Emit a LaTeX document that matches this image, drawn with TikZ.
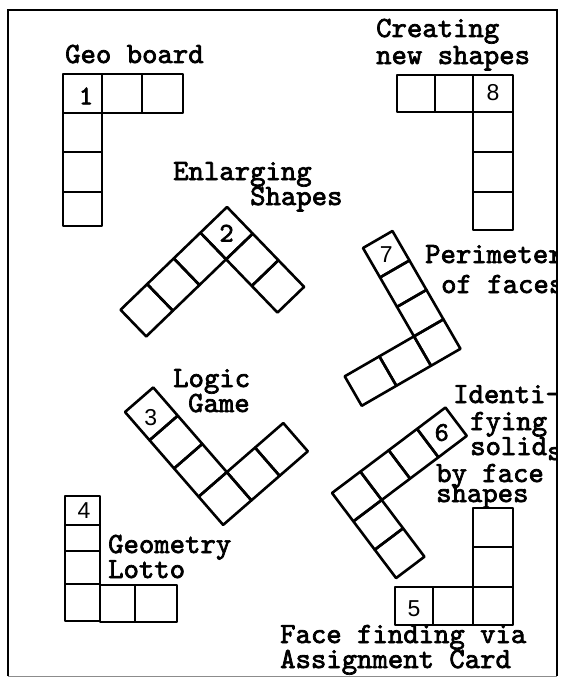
\documentclass[tikz,border=0pt]{standalone}
\usepackage{fontspec}
\newfontfamily\maquina{lmmono10-regular}[Extension=.otf, FakeBold=2.4]
\newfontfamily\cifras{Liberation Sans}
\begin{document}
\begin{tikzpicture}[x=1pt, y=-1pt,
    casilla/.style={draw, line width=2.6pt, line join=round},
    marco/.style={line width=2.3pt},
    rotulo/.style={anchor=base west, inner sep=0pt, font=\maquina\fontsize{29.3}{30}\selectfont},
    num/.style={inner sep=0pt, font=\cifras\fontsize{23}{24}\selectfont},
    numtt/.style={inner sep=0pt, font=\maquina\fontsize{27}{28}\selectfont}]
  \useasboundingbox (0,0) rectangle (561,677);
  \fill[white] (0,0) rectangle (561,677);
  \begin{scope}
    \clip (8,10) rectangle (557,676);
    \foreach \xa/\xb in {63/102,102/142,142/183}
      \draw[casilla] (\xa,74) rectangle (\xb,113);
    \foreach \ya/\yb in {113/152,152/192,192/226}
      \draw[casilla] (63,\ya) rectangle (102,\yb);
    \node[numtt] (n1) at (86,96) {1};
    \node[rotulo] (geo) at (65,63) {Geo board};

    \foreach \xa/\xb in {397/435,435/473,473/513}
      \draw[casilla] (\xa,75) rectangle (\xb,112);
    \foreach \ya/\yb in {112/152,152/192,192/230}
      \draw[casilla] (473,\ya) rectangle (513,\yb);
    \node[num] (n8) at (493,93) {8};
    \node[rotulo] (crea) at (376,37) {Creating};
    \node[rotulo] (crea2) at (376,64) {new shapes};

    \begin{scope}[shift={(227,207)}, rotate=-46]
      \foreach \i in {0,...,3} \draw[casilla] (0,37*\i) rectangle ++(37,37);
      \foreach \i in {1,2} \draw[casilla] (37*\i,0) rectangle ++(37,37);
      \node[numtt] (n2) at (18.5,18.5) {2};
    \end{scope}
    \node[rotulo] (enl) at (173,180) {Enlarging};
    \node[rotulo] (enl2) at (250,205) {Shapes};

    \begin{scope}[shift={(363,248)}, rotate=30]
      \foreach \i in {0,...,3} \draw[casilla] (0,34*\i) rectangle ++(34,34);
      \foreach \i in {1,2} \draw[casilla] (-40*\i,102) rectangle ++(40,34);
      \node[num] (n7) at (17,17) {7};
    \end{scope}
    \node[rotulo] (per) at (425,263) {Perimeter};
    \node[rotulo] (per2) at (441,293) {of faces};

    \begin{scope}[shift={(125,412)}, rotate=41]
      \foreach \i in {0,...,3} \draw[casilla] (0,37.4*\i) rectangle ++(37.4,37.4);
      \foreach \i in {1,2} \draw[casilla] (37.4*\i,3*37.4) rectangle ++(37.4,37.4);
      \node[num] (n3) at (16,21) {3};
    \end{scope}
    \node[rotulo] (log) at (173,387) {Logic};
    \node[rotulo] (log2) at (188,412) {Game};

    \begin{scope}[shift={(332,493)}, rotate=37]
      \foreach \i in {0,...,3} \draw[casilla] (35.5*\i,0) rectangle ++(35.5,35.5);
      \foreach \i in {1,2} \draw[casilla] (0,35.5*\i) rectangle ++(35.5,35.5);
      \node[numtt] (n6) at (124,17.75) {6};
    \end{scope}
    \node[rotulo] (ide) at (453,403) {Identi-};
    \node[rotulo] (ide2) at (470,430) {fying};
    \node[rotulo] (ide3) at (470,455) {solid\raisebox{-5pt}{s}};
    \node[rotulo] (ide4) at (436,482) {by face};
    \node[rotulo] (ide5) at (436,502) {shapes};

    \foreach \ya/\yb in {496/525,525/551,551/584,584/621}
      \draw[casilla] (65,\ya) rectangle (100,\yb);
    \foreach \xa/\xb in {100/135,135/177}
      \draw[casilla] (\xa,585) rectangle (\xb,622);
    \node[num] (n4) at (84,511) {4};
    \node[rotulo] (lot) at (108,553) {Geometry};
    \node[rotulo] (lot2) at (108,578) {Lotto};

    \foreach \ya/\yb in {508/547,547/587,587/625}
      \draw[casilla] (473,\ya) rectangle (513,\yb);
    \foreach \xa/\xb in {395/433,433/473}
      \draw[casilla] (\xa,587) rectangle (\xb,625);
    \node[num] (n5) at (414,609) {5};
    \node[rotulo] (fac) at (280,643) {Face finding via};
    \node[rotulo] (fac2) at (280,668) {Assignment Card};
  \end{scope}
  \draw[marco] (8,676) -- (8,10) -- (557,10) -- (557,676);
  \draw[black!45, line width=1pt] (8,676) -- (557,676);
\end{tikzpicture}
\end{document}
